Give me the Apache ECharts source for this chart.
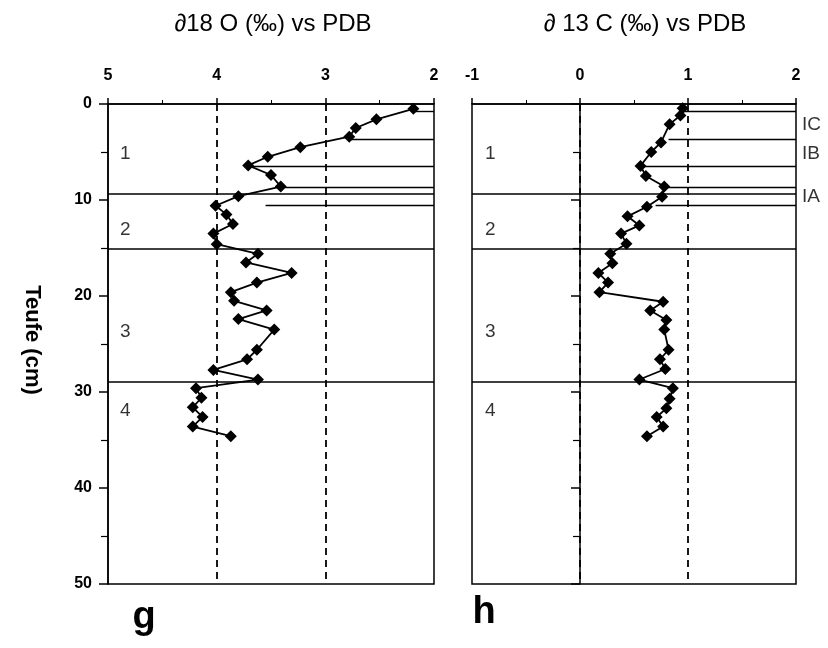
<!DOCTYPE html>
<html><head><meta charset="utf-8">
<script src="https://cdn.jsdelivr.net/npm/echarts@6/dist/echarts.min.js"></script>
<style>html,body{margin:0;padding:0;background:#fff}#c{width:828px;height:648px}</style>
</head><body><div id="c"></div>
<script>
// δ18O panel (g)
const depthO = [0.5, 1.6, 2.5, 3.4, 4.5, 5.5, 6.4, 7.4, 8.6, 9.6, 10.6, 11.5, 12.5, 13.5, 14.6, 15.6, 16.5, 17.6, 18.6, 19.6, 20.5, 21.5, 22.4, 23.5, 25.6, 26.6, 27.7, 28.7, 29.6, 30.6, 31.6, 32.6, 33.6, 34.6];
const valO   = [2.19, 2.53, 2.72, 2.78, 3.23, 3.53, 3.71, 3.50, 3.41, 3.80, 4.01, 3.91, 3.85, 4.03, 4.00, 3.62, 3.73, 3.31, 3.63, 3.87, 3.84, 3.54, 3.80, 3.47, 3.63, 3.72, 4.03, 3.62, 4.19, 4.14, 4.22, 4.13, 4.22, 3.87];
// δ13C panel (h)
const depthC = [0.45, 1.2, 2.1, 4.0, 5.0, 6.45, 7.5, 8.6, 9.65, 10.7, 11.7, 12.65, 13.5, 14.55, 15.6, 16.6, 17.6, 18.6, 19.6, 20.6, 21.5, 22.5, 23.5, 25.6, 26.6, 27.6, 28.7, 29.6, 30.7, 31.7, 32.6, 33.6, 34.6];
const valC   = [0.95, 0.93, 0.83, 0.75, 0.66, 0.56, 0.61, 0.78, 0.76, 0.62, 0.44, 0.55, 0.38, 0.43, 0.28, 0.30, 0.17, 0.26, 0.18, 0.77, 0.65, 0.80, 0.78, 0.82, 0.74, 0.79, 0.55, 0.86, 0.83, 0.80, 0.71, 0.77, 0.62];
// stratigraphy
const mainBoundaries = [9.4, 15.05, 28.9];
const subDepths  = [0.8, 3.7, 6.45, 8.65, 10.5];
const subStartO  = [2.2, 2.78, 3.71, 3.41, 3.55];
const subStartC  = [0.97, 0.82, 0.57, 0.79, 0.70];
const subLabels = ['IC', 'IB', 'IA'];
const subLabelDepths = [2.2, 5.2, 9.7];
const unitLabels = ['1', '2', '3', '4'];
const unitDepths = [5.2, 13.1, 23.7, 32.0];
const refLinesO = [4, 3];
const refLinesC = [0, 1];
const titleO = '\u220218 O (\u2030) vs PDB';
const titleC = '\u2202 13 C (\u2030) vs PDB';
const yName = 'Teufe (cm)';
const panelLetters = ['g', 'h'];

const FONT = '"Liberation Sans", Arial, Helvetica, sans-serif';
const chart = echarts.init(document.getElementById('c'), null, {renderer: 'canvas'});

function xAxisCfg(idx, min, max, inverse) {
  return {
    type: 'value', gridIndex: idx, min: min, max: max, interval: 1, inverse: inverse, position: 'top',
    axisLine: {show: true, lineStyle: {color: '#000', width: 1.5}},
    axisTick: {show: true, length: 6, lineStyle: {color: '#000', width: 1.5}},
    minorTick: {show: true, splitNumber: 2, length: 4, lineStyle: {color: '#000', width: 1}},
    axisLabel: {show: true, margin: 20, color: '#000', fontSize: 16, fontWeight: 'bold', fontFamily: FONT},
    splitLine: {show: false}
  };
}
function yAxisCfg(idx, showLabel) {
  return {
    type: 'value', gridIndex: idx, min: 0, max: 50, interval: 10, inverse: true,
    axisLine: {show: true, lineStyle: {color: '#000', width: 1.5}},
    axisTick: {show: true, length: 9, lineStyle: {color: '#000', width: 1.5}},
    minorTick: {show: true, splitNumber: 2, length: 7, lineStyle: {color: '#000', width: 1.2}},
    axisLabel: {show: showLabel, margin: 16, color: '#000', fontSize: 16, fontWeight: 'bold', fontFamily: FONT},
    splitLine: {show: false}
  };
}
const mlBase = {symbol: ['none', 'none'], silent: true, label: {show: false}, animation: false};
function panelSeries(idx, vals, depths, refLines, subStart, edge, unitX) {
  const lines = [];
  mainBoundaries.forEach(d => lines.push({yAxis: d, lineStyle: {color: '#000', width: 1.6, type: 'solid'}}));
  refLines.forEach(v => lines.push({xAxis: v, lineStyle: {color: '#000', width: 1.8, type: [7, 5]}}));
  subDepths.forEach((d, i) => lines.push([{coord: [subStart[i], d], lineStyle: {color: '#000', width: 1.4, type: 'solid'}}, {coord: [edge, d]}]));
  return [
    {
      type: 'line', xAxisIndex: idx, yAxisIndex: idx,
      data: depths.map((d, i) => [vals[i], d]),
      symbol: 'diamond', symbolSize: 12, showAllSymbol: true,
      itemStyle: {color: '#000'}, lineStyle: {color: '#000', width: 1.8},
      markLine: Object.assign({data: lines}, mlBase),
      z: 5
    },
    {
      type: 'scatter', xAxisIndex: idx, yAxisIndex: idx, symbolSize: 0, silent: true,
      data: unitDepths.map(d => [unitX, d]),
      label: {show: true, position: 'inside', formatter: p => unitLabels[p.dataIndex], color: '#000', fontSize: 19, fontFamily: FONT}
    }
  ];
}
const series = [].concat(
  panelSeries(0, valO, depthO, refLinesO, subStartO, 2, 4.84),
  panelSeries(1, valC, depthC, refLinesC, subStartC, 2, -0.83),
  [{
    type: 'scatter', xAxisIndex: 1, yAxisIndex: 1, symbolSize: 0, silent: true, clip: false,
    data: subLabelDepths.map(d => [2, d]),
    label: {show: true, position: 'right', distance: 6, formatter: p => subLabels[p.dataIndex], color: '#000', fontSize: 19, fontFamily: FONT}
  }]
);
chart.setOption({
  animation: false,
  backgroundColor: '#fff',
  grid: [
    {left: 108, top: 104, width: 326, height: 480, show: true, borderColor: '#000', borderWidth: 1.5, backgroundColor: 'transparent'},
    {left: 472, top: 104, width: 324, height: 480, show: true, borderColor: '#000', borderWidth: 1.5, backgroundColor: 'transparent'}
  ],
  xAxis: [xAxisCfg(0, 2, 5, true), xAxisCfg(1, -1, 2, false)],
  yAxis: [yAxisCfg(0, true), yAxisCfg(1, false)],
  series: series,
  graphic: [
    {type: 'text', x: 273, y: 24, style: {text: titleO, fontSize: 24, fontFamily: FONT, fill: '#000', align: 'center', verticalAlign: 'middle'}},
    {type: 'text', x: 645, y: 24, style: {text: titleC, fontSize: 24, fontFamily: FONT, fill: '#000', align: 'center', verticalAlign: 'middle'}},
    {type: 'text', x: 32, y: 340, rotation: -Math.PI / 2, style: {text: yName, fontSize: 22, fontWeight: 'bold', fontFamily: FONT, fill: '#000', align: 'center', verticalAlign: 'middle'}},
    {type: 'text', x: 144, y: 618, style: {text: panelLetters[0], fontSize: 38, fontWeight: 'bold', fontFamily: FONT, fill: '#000', align: 'center', verticalAlign: 'middle'}},
    {type: 'text', x: 484, y: 613, style: {text: panelLetters[1], fontSize: 38, fontWeight: 'bold', fontFamily: FONT, fill: '#000', align: 'center', verticalAlign: 'middle'}}
  ]
});
</script></body></html>
